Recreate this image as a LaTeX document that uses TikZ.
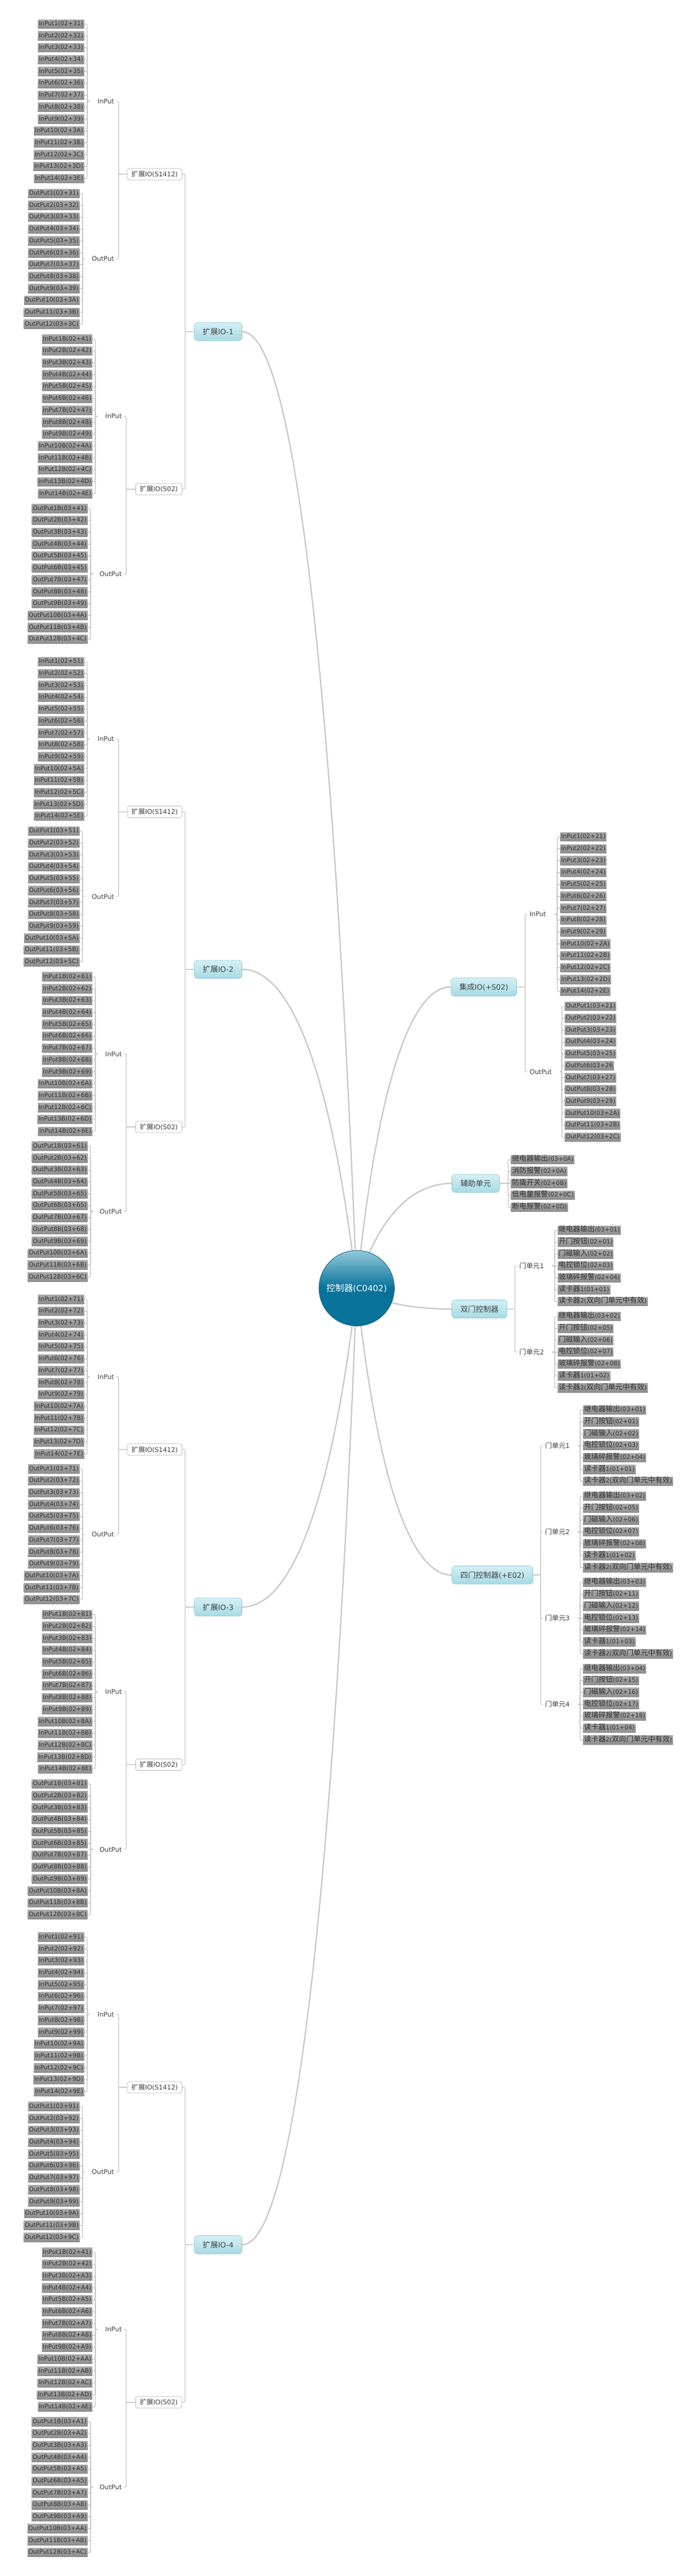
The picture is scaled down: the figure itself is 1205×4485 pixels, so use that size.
\documentclass[tikz,border=0pt]{standalone}
\usepackage{fontspec}
\setmainfont{DejaVu Sans}
\newfontfamily\zhfont{Noto Sans CJK SC}[Scale=1.05]
\newfontfamily\zhwide{Noto Sans CJK SC}[Scale=1.2]
\newcommand{\zh}[1]{{\zhfont #1}}
\newcommand{\zhw}[1]{{\zhwide #1}}
\usepackage{tikz}
\usetikzlibrary{backgrounds}
\definecolor{rootlight}{HTML}{92CADB}
\definecolor{rootdark}{HTML}{08729A}
\definecolor{rootedge}{HTML}{0B5F7E}
\definecolor{boxtop}{HTML}{D4F0F5}
\definecolor{boxbot}{HTML}{A6DAE4}
\definecolor{boxedge}{HTML}{95CAD5}
\definecolor{subedge}{HTML}{BBBBBB}
\definecolor{leaftop}{HTML}{A8A8A8}
\definecolor{leafbot}{HTML}{8E8E8E}
\definecolor{leaftext}{HTML}{2E2E2E}
\definecolor{textgray}{HTML}{404040}
\definecolor{linegray}{HTML}{C6C6C6}
\definecolor{twiggray}{HTML}{C4C4C4}
\tikzstyle{rootnode} = [circle, minimum size=131.4pt, inner sep=0pt, draw=rootedge, line width=0.8pt,
top color=rootlight, bottom color=rootdark, middle color=rootdark, text=white, font=\fontsize{14.7pt}{17pt}\selectfont]
\tikzstyle{mainbox} = [rectangle, rounded corners=6pt, minimum height=31.5pt, inner xsep=14.75pt, inner ysep=0pt,
draw=boxedge, line width=0.8pt, top color=boxtop, bottom color=boxbot, text=textgray, font=\fontsize{12.7pt}{15pt}\selectfont]
\tikzstyle{subbox} = [rectangle, rounded corners=3.5pt, minimum height=20pt, inner xsep=7.2pt, inner ysep=0pt,
draw=subedge, line width=0.8pt, fill=white, text=textgray, font=\fontsize{11.3pt}{13pt}\selectfont]
\tikzstyle{sidelabel} = [inner xsep=4pt, inner ysep=2pt, text=textgray, font=\fontsize{11.3pt}{13pt}\selectfont]
\tikzstyle{leafbox} = [rectangle, minimum height=15.5pt, inner xsep=1.6pt, inner ysep=0pt, text height=8pt, text depth=2.6pt,
top color=leaftop, bottom color=leafbot, text=leaftext, font=\fontsize{10.5pt}{12pt}\selectfont]
\tikzstyle{branchline} = [draw=linegray, line width=2.2pt]
\tikzstyle{twigline} = [draw=twiggray, line width=1.2pt, rounded corners=2pt]

\begin{document}
\begin{tikzpicture}[x=1pt, y=-1pt]
		\useasboundingbox (0,0) rectangle (1205,4485);
		%centre
		\node[rootnode] (root) at (621.6,2242.8) {\zh{控制器}(C0402)};

		%extension io, left side
		\foreach \k/\ionum/\hia/\hib in {0/1/3/4,1/2/5/6,2/3/7/8,3/4/9/A}{
			\node[mainbox, anchor=west] (io_\k) at (338.3,{577.45+1110.3*\k}) {\zh{扩展}IO-\ionum};
			\node[subbox, anchor=east] (s1412_\k) at (317.5,{303.15+1110.3*\k}) {\zh{扩展}IO(S1412)};
			\node[subbox, anchor=east] (s02_\k) at (317.5,{851.75+1110.3*\k}) {\zh{扩展}IO(S02)};
			\node[sidelabel, anchor=east] (in_a_\k) at (203.1,{176.35+1110.3*\k}) {InPut};
			\node[sidelabel, anchor=east] (out_a_\k) at (203.1,{450.65+1110.3*\k}) {OutPut};
			\node[sidelabel, anchor=east] (in_b_\k) at (216.4,{724.95+1110.3*\k}) {InPut};
			\node[sidelabel, anchor=east] (out_b_\k) at (216.4,{999.25+1110.3*\k}) {OutPut};
			\foreach \p in {s1412,s02}
				\draw[twigline] (io_\k.west) -| ([xshift=5pt]\p_\k.east) -- (\p_\k.east);
			\draw[twigline] (s1412_\k.west) -| ([xshift=3.6pt]in_a_\k.east) -- (in_a_\k.east);
			\draw[twigline] (s1412_\k.west) -| ([xshift=3.6pt]out_a_\k.east) -- (out_a_\k.east);
			\draw[twigline] (s02_\k.west) -| ([xshift=3.6pt]in_b_\k.east) -- (in_b_\k.east);
			\draw[twigline] (s02_\k.west) -| ([xshift=3.6pt]out_b_\k.east) -- (out_b_\k.east);
			\foreach \h [count=\i] in {1,2,3,4,5,6,7,8,9,A,B,C,D,E}{
				\node[leafbox, anchor=east] (ia_\k_\i) at (146.7,{41.8+20.7*(\i-1)+1110.3*\k}) {InPut\i(02+\hia\h)};
				\draw[twigline] ([xshift=-10pt]in_a_\k.west) -| ([xshift=5pt]ia_\k_\i.east) -- (ia_\k_\i.east);
				\edef\hpre{\hib}\ifnum\k=3 \ifnum\i<3 \def\hpre{4}\fi\fi
				\node[leafbox, anchor=east] (ib_\k_\i) at (161,{590.4+20.7*(\i-1)+1110.3*\k}) {InPut\i{}B(02+\hpre\h)};
				\draw[twigline] ([xshift=-10pt]in_b_\k.west) -| ([xshift=5pt]ib_\k_\i.east) -- (ib_\k_\i.east);
			}
			\foreach \h [count=\i] in {1,2,3,4,5,6,7,8,9,A,B,C}{
				\node[leafbox, anchor=east] (oa_\k_\i) at (138.7,{336.8+20.7*(\i-1)+1110.3*\k}) {OutPut\i(03+\hia\h)};
				\draw[twigline] ([xshift=-10pt]out_a_\k.west) -| ([xshift=5pt]oa_\k_\i.east) -- (oa_\k_\i.east);
			}
			\foreach \h [count=\i] in {1,2,3,4,5,5,7,8,9,A,B,C}{
				\node[leafbox, anchor=east] (ob_\k_\i) at (152.7,{885.4+20.7*(\i-1)+1110.3*\k}) {OutPut\i{}B(03+\hib\h)};
				\draw[twigline] ([xshift=-10pt]out_b_\k.west) -| ([xshift=5pt]ob_\k_\i.east) -- (ob_\k_\i.east);
			}
		}

		%integrated io
		\node[mainbox, anchor=west] (jc_io) at (785.5,1718.4) {\zh{集成}IO(+S02)};
		\node[sidelabel, anchor=west] (jc_in) at (918.9,1591.65) {InPut};
		\node[sidelabel, anchor=west] (jc_out) at (918.9,1865.95) {OutPut};
		\draw[twigline] (jc_io.east) -| ([xshift=-3.6pt]jc_in.west) -- (jc_in.west);
		\draw[twigline] (jc_io.east) -| ([xshift=-3.6pt]jc_out.west) -- (jc_out.west);
		\foreach \h [count=\i] in {1,2,3,4,5,6,7,8,9,A,B,C,D,E}{
			\node[leafbox, anchor=west] (jc_in_\i) at (976.3,{1457.1+20.7*(\i-1)}) {InPut\i(02+2\h)};
			\draw[twigline] ([xshift=10pt]jc_in.east) -| ([xshift=-5pt]jc_in_\i.west) -- (jc_in_\i.west);
		}
		\foreach \h [count=\i] in {1,2,3,4,5,6,7,8,9,A,B,C}{
			\node[leafbox, anchor=west] (jc_out_\i) at (984.2,{1752.1+20.7*(\i-1)}) {OutPut\i(03+2\h\ifnum\i=6 \else)\fi};
			\draw[twigline] ([xshift=10pt]jc_out.east) -| ([xshift=-5pt]jc_out_\i.west) -- (jc_out_\i.west);
		}

		%auxiliary unit
		\node[mainbox, anchor=west] (fz_unit) at (787.2,2060.4) {\zh{辅助单元}};
		\foreach \t/\c [count=\i] in {继电器输出/03+0A,消防报警/02+0A,防撬开关/02+0B,低电量报警/02+0C,断电报警/02+0D}{
			\node[leafbox, anchor=west] (fz_\i) at (890.5,{2019+20.7*(\i-1)}) {\zhw{\t}(\c)};
			\draw[twigline] (fz_unit.east) -| ([xshift=-5pt]fz_\i.west) -- (fz_\i.west);
		}

		%door controllers
		\node[mainbox, anchor=west] (sm_two) at (787.2,2279.1) {\zh{双门控制器}};
		\node[mainbox, anchor=west] (sm_four) at (787.3,2742.25) {\zh{四门控制器}(+E02)};
		\foreach \g/\cRel/\cBtn/\cMag/\cLck/\cGls in {1/01/01/02/03/04,2/02/05/06/07/08}{
			\node[sidelabel, anchor=west] (sm_two_u\g) at (901,{2204.1+150.1*(\g-1)}) {\zh{门单元}\g};
			\draw[twigline] (sm_two.east) -| ([xshift=-3.6pt]sm_two_u\g.west) -- (sm_two_u\g.west);
			\foreach \t [count=\i] in {{\zhw{继电器输出}(03+\cRel)},{\zhw{开门按钮}(02+\cBtn)},{\zhw{门磁输入}(02+\cMag)},{\zhw{电控锁位}(02+\cLck)},{\zhw{玻璃碎报警}(02+\cGls)},{\zhw{读卡器}1(01+\cRel)},{\zhw{读卡器}2(\zhw{双向门单元中有效})}}{
				\node[leafbox, anchor=west] (sm_two_\g_\i) at (971.7,{2142+150.1*(\g-1)+20.7*(\i-1)}) {\t};
				\draw[twigline] ([xshift=10pt]sm_two_u\g.east) -| ([xshift=-5pt]sm_two_\g_\i.west) -- (sm_two_\g_\i.west);
			}
		}
		\foreach \g/\cRel/\cBtn/\cMag/\cLck/\cGls in {1/01/01/02/03/04,2/02/05/06/07/08,3/03/11/12/13/14,4/04/15/16/17/18}{
			\node[sidelabel, anchor=west] (sm_four_u\g) at (945.9,{2517.1+150.1*(\g-1)}) {\zh{门单元}\g};
			\draw[twigline] (sm_four.east) -| ([xshift=-3.6pt]sm_four_u\g.west) -- (sm_four_u\g.west);
			\foreach \t [count=\i] in {{\zhw{继电器输出}(03+\cRel)},{\zhw{开门按钮}(02+\cBtn)},{\zhw{门磁输入}(02+\cMag)},{\zhw{电控锁位}(02+\cLck)},{\zhw{玻璃碎报警}(02+\cGls)},{\zhw{读卡器}1(01+\cRel)},{\zhw{读卡器}2(\zhw{双向门单元中有效})}}{
				\node[leafbox, anchor=west] (sm_four_\g_\i) at (1016,{2455+150.1*(\g-1)+20.7*(\i-1)}) {\t};
				\draw[twigline] ([xshift=10pt]sm_four_u\g.east) -| ([xshift=-5pt]sm_four_\g_\i.west) -- (sm_four_\g_\i.west);
			}
		}

		%arrows
		\begin{scope}[on background layer]
			\fill[white] (0,0) rectangle (1205,4485);
			\foreach \k in {0,...,3}
				\draw[branchline] (root.center) .. controls +(-36.3,{0.57*(577.45+1110.3*\k-2242.8)}) and +(98.8,0) .. (io_\k.east);
			\draw[branchline] (root.center) .. controls +(29.5,-299) and +(-80.3,0) .. (jc_io.west);
			\draw[branchline] (root.center) .. controls +(29.8,-104) and +(-81.1,0) .. (fz_unit.west);
			\draw[branchline] (root.center) .. controls +(29.8,20.7) and +(-81.1,0) .. (sm_two.west);
			\draw[branchline] (root.center) .. controls +(29.8,284.7) and +(-81.2,0) .. (sm_four.west);
		\end{scope}
	\end{tikzpicture}
\end{document}
